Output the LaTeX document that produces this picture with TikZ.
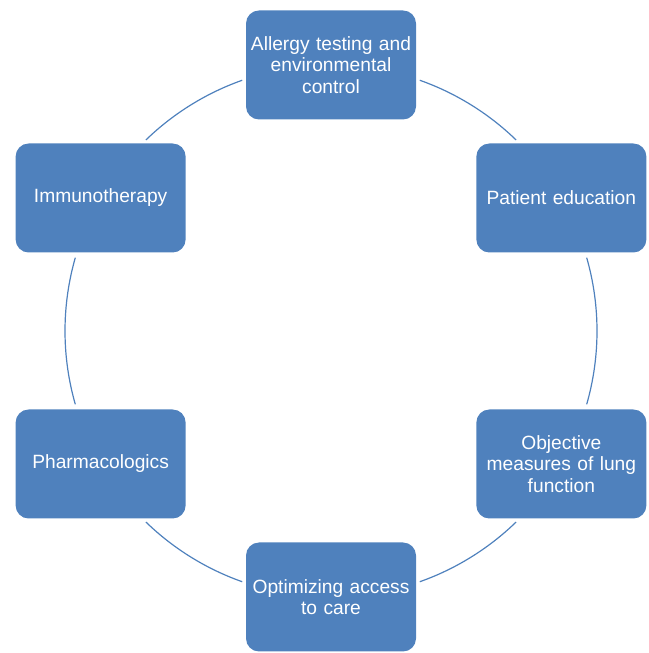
\documentclass[tikz,border=0pt]{standalone}
\usepackage{fontspec}
\setmainfont{Liberation Sans}
\usetikzlibrary{calc}
\definecolor{boxblue}{HTML}{4F81BD}
\tikzset{
  stagebox/.style={fill=boxblue, draw=none, rounded corners=13pt,
    minimum width=170pt, minimum height=109pt, text width=166pt, align=center,
    text=white, font=\fontsize{19.2pt}{21.6pt}\selectfont, inner sep=0pt},
  conn/.style={draw=boxblue, line width=1.2pt}
}
\begin{document}
\begin{tikzpicture}[x=1pt,y=1pt]
\useasboundingbox (0,0) rectangle (648,653);
\def\R{266}
\coordinate (c) at (331,322);
\node[stagebox] (top) at ($(c)+(90:\R)$) {Allergy testing and\\ environmental\\ control};
\node[stagebox] (pe) at ($(c)+(30:\R)$) {Patient education};
\node[stagebox] (obj) at ($(c)+(-30:\R)$) {Objective\\ measures of lung\\ function};
\node[stagebox] (opt) at ($(c)+(-90:\R)$) {Optimizing access\\ to care};
\node[stagebox] (ph) at ($(c)+(-150:\R)$) {Pharmacologics};
\node[stagebox] (im) at ($(c)+(150:\R)$) {Immunotherapy};
\draw[conn] ($(c)+(70.5:\R)$) arc[start angle=70.5, end angle=45.9, radius=\R];
\draw[conn] ($(c)+(16:\R)$) arc[start angle=16, end angle=-16, radius=\R];
\draw[conn] ($(c)+(-45.9:\R)$) arc[start angle=-45.9, end angle=-70.5, radius=\R];
\draw[conn] ($(c)+(-109.5:\R)$) arc[start angle=-109.5, end angle=-134.1, radius=\R];
\draw[conn] ($(c)+(-164:\R)$) arc[start angle=-164, end angle=-196, radius=\R];
\draw[conn] ($(c)+(134.1:\R)$) arc[start angle=134.1, end angle=109.5, radius=\R];
\end{tikzpicture}
\end{document}
